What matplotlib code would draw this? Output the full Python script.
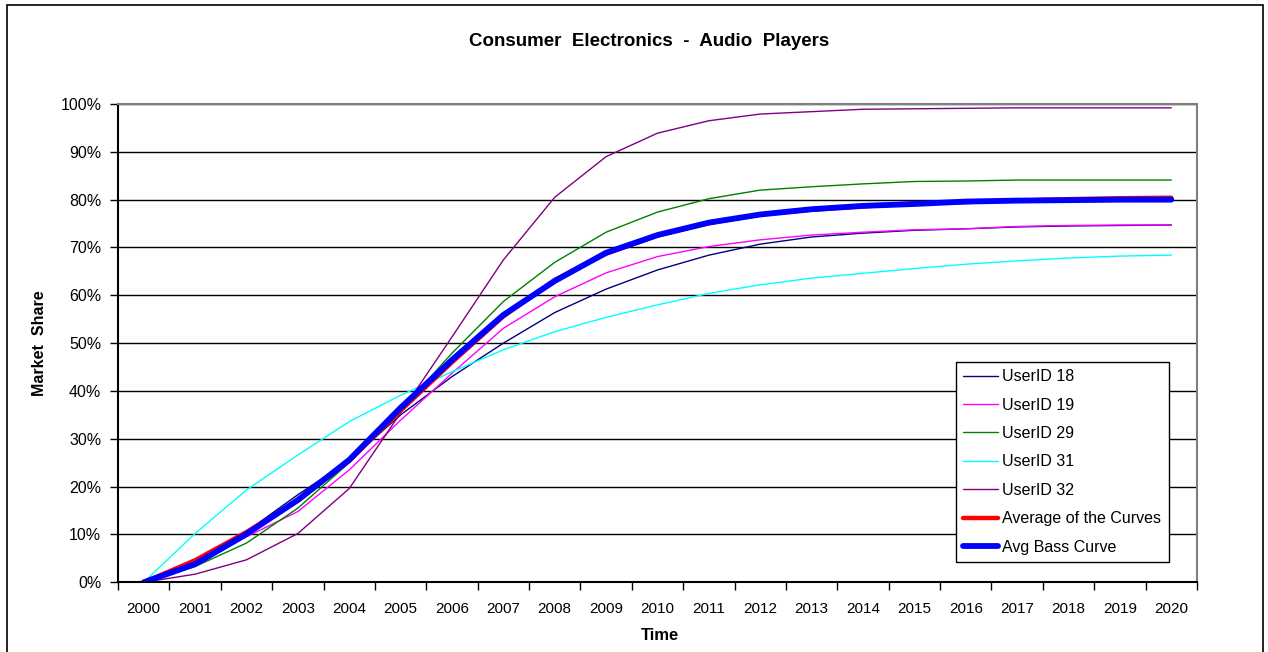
import numpy as np
import matplotlib
matplotlib.use('Agg')
import matplotlib.pyplot as plt
from matplotlib.ticker import FixedLocator, PercentFormatter

plt.rcParams['font.family'] = ['Liberation Sans', 'DejaVu Sans']

years = [str(y) for y in range(2000, 2021)]

# market share in percent
user18 = [0, 4.0, 10.6, 18.3, 25.5, 35.0, 43.0, 50.0, 56.4, 61.3, 65.3, 68.4, 70.7, 72.2, 73.0, 73.6, 73.9, 74.3, 74.5, 74.6, 74.7]
user19 = [0, 3.6, 9.5, 14.8, 23.5, 33.9, 43.7, 53.1, 59.7, 64.7, 68.1, 70.2, 71.6, 72.6, 73.2, 73.7, 73.9, 74.4, 74.6, 74.7, 74.7]
user29 = [0, 3.3, 8.2, 15.5, 25.0, 36.0, 47.9, 58.7, 66.9, 73.2, 77.4, 80.2, 82.0, 82.7, 83.3, 83.8, 83.9, 84.1, 84.1, 84.1, 84.1]
user31 = [0, 10.2, 19.3, 26.6, 33.6, 39.1, 44.0, 48.6, 52.4, 55.4, 58.0, 60.4, 62.2, 63.6, 64.6, 65.6, 66.5, 67.2, 67.8, 68.2, 68.4]
user32 = [0, 1.7, 4.7, 10.2, 19.6, 35.4, 51.3, 67.4, 80.5, 89.0, 93.9, 96.5, 97.9, 98.4, 98.9, 99.0, 99.1, 99.2, 99.2, 99.2, 99.2]
avg_curves = [0, 4.6, 10.5, 17.1, 25.4, 35.9, 46.0, 55.6, 63.2, 68.7, 72.5, 75.1, 76.9, 77.9, 78.6, 79.2, 79.5, 79.8, 80.1, 80.3, 80.4]
avg_bass = [0, 3.8, 10.1, 17.2, 25.6, 36.5, 46.5, 55.9, 63.0, 68.9, 72.6, 75.2, 76.9, 78.0, 78.7, 79.1, 79.6, 79.8, 79.9, 80.0, 80.0]

series = [
    ('UserID 18', user18, '#000080', 1.0),
    ('UserID 19', user19, '#FF00FF', 1.0),
    ('UserID 29', user29, '#008000', 1.0),
    ('UserID 31', user31, '#00FFFF', 1.0),
    ('UserID 32', user32, '#800080', 1.0),
    ('Average of the Curves', avg_curves, '#FF0000', 3.2),
    ('Avg Bass Curve', avg_bass, '#0000FF', 4.2),
]

fig = plt.figure(figsize=(12.68, 6.52), dpi=100)
ax = fig.add_axes([118/1268, 1 - 582.3/652, (1197-118)/1268, (582.3-104)/652])

x = np.arange(len(years))
for name, vals, col, lw in series:
    ax.plot(x, vals, color=col, lw=lw, label=name, solid_capstyle='round')

ax.set_xlim(-0.5, len(years) - 0.5)
ax.set_ylim(0, 100)

ax.set_xticks(x)
ax.set_xticklabels(years, fontsize=11)
ax.xaxis.set_minor_locator(FixedLocator(np.arange(-0.5, len(years), 1.0)))
ax.tick_params(axis='x', which='major', length=0, pad=14)
ax.tick_params(axis='x', which='minor', length=6, width=1, direction='out')

ax.set_yticks(np.arange(0, 101, 10))
ax.yaxis.set_major_formatter(PercentFormatter(decimals=0))
ax.tick_params(axis='y', length=6, width=1, direction='out', pad=6, labelsize=11.5)

ax.grid(axis='y', color='black', lw=1)
ax.set_axisbelow(True)
for s in ['top', 'right']:
    ax.spines[s].set_color('#808080')
    ax.spines[s].set_linewidth(1.5)
for s in ['left', 'bottom']:
    ax.spines[s].set_color('black')
    ax.spines[s].set_linewidth(1.5)

fig.text(649/1268, 1 - 41/652, 'Consumer  Electronics  -  Audio  Players',
         ha='center', va='center', fontsize=13.5, fontweight='bold')
fig.text(40/1268, 1 - 343/652, 'Market  Share', rotation=90,
         ha='center', va='center', fontsize=11.5, fontweight='bold')
fig.text(660/1268, 1 - 635/652, 'Time', ha='center', va='center',
         fontsize=12, fontweight='bold')

leg = ax.legend(loc='upper left', bbox_to_anchor=(956/1268, 1 - 362/652),
                bbox_transform=fig.transFigure, fontsize=11.5, frameon=True,
                fancybox=False, framealpha=1, edgecolor='black',
                handlelength=2.2, handletextpad=0.25, labelspacing=0.84,
                borderpad=0.45, borderaxespad=0)
leg.get_frame().set_linewidth(1.0)

# outer chart frame
fig.patches.append(plt.Rectangle((7/1268, -0.02), (1263-7)/1268, 0.02 + 1 - 5/652,
                                 transform=fig.transFigure, fill=False,
                                 edgecolor='black', lw=1.2))

fig.savefig('out.png', dpi=100)
